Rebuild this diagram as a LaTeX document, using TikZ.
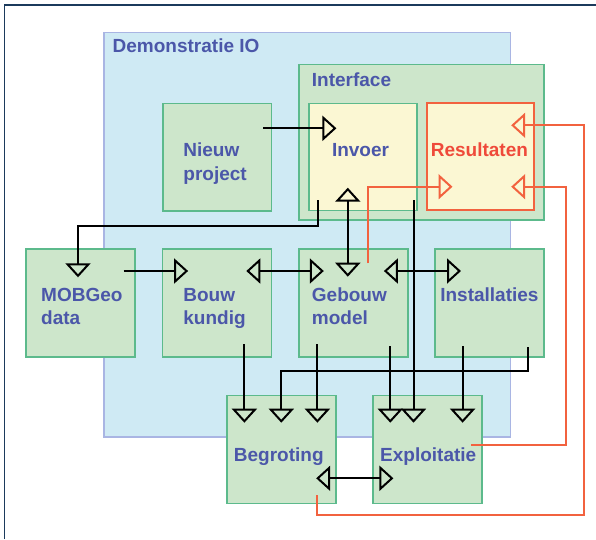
\documentclass[tikz,border=0pt]{standalone}
\usepackage{fontspec}
\setmainfont{Liberation Sans}
\usetikzlibrary{arrows.meta}
\definecolor{frameC}{HTML}{1B3A5C}
\definecolor{demoFill}{HTML}{CFEAF4}
\definecolor{demoLine}{HTML}{A9B5E3}
\definecolor{grFill}{HTML}{CDE6CB}
\definecolor{grLine}{HTML}{5CBA8C}
\definecolor{yeFill}{HTML}{FBF7D3}
\definecolor{redC}{HTML}{F2623F}
\definecolor{txtBlue}{HTML}{4B57A9}
\definecolor{txtRed}{HTML}{EF4A3A}
\tikzset{
  box/.style={draw, line width=1.6pt, anchor=north west, inner sep=0pt, outer sep=0pt},
  demobox/.style={box, draw=demoLine, fill=demoFill},
  greenbox/.style={box, draw=grLine, fill=grFill, minimum width=109pt, minimum height=108pt},
  yellowbox/.style={box, draw=grLine, fill=yeFill, minimum width=108pt, minimum height=107pt},
  redbox/.style={box, draw=redC, line width=2pt, fill=yeFill, minimum width=107pt, minimum height=107pt},
  lbl/.style={font=\fontsize{19}{23.3}\selectfont\bfseries, text=txtBlue, inner sep=0pt, align=left, anchor=base west},
  tip/.tip={Triangle[open, length=14pt, width=25pt]},
  conn/.style={line width=2pt, draw=black, line join=miter},
  redconn/.style={line width=2pt, draw=redC, line join=miter},
}
\begin{document}
\begin{tikzpicture}[x=1pt,y=-1pt]
\useasboundingbox (0,0) rectangle (596,539);
% frame
\draw[frameC, line width=1.6pt] (4.6,539) -- (4.6,4.7) -- (596,4.7);

% containers
\node[demobox, minimum width=406.7pt, minimum height=404.4pt] (demo) at (103.8,32.3) {};
\node[lbl] (tdemo) at (112.5,52.3) {Demonstratie IO};
\node[box, draw=grLine, fill=grFill, minimum width=245pt, minimum height=155.7pt] (iface) at (299,64.3) {};
\node[lbl] (tiface) at (311.7,86) {Interface};

% top row
\node[greenbox, minimum width=108.7pt, minimum height=107.4pt] (nieuw) at (162.7,103.3) {};
\node[yellowbox] (invoer) at (309,103.3) {};
\node[redbox] (result) at (426.7,103.3) {};
\node[lbl] (tnieuw) at (183.2,180) {Nieuw\\project};
\node[lbl] (tinvoer) at (331.8,156.7) {Invoer};
\node[lbl, text=txtRed] (tresult) at (430.6,156.7) {Resultaten};

% middle row
\node[greenbox] (mob) at (25.8,249) {};
\node[greenbox] (bouw) at (162.3,249) {};
\node[greenbox] (gebouw) at (299,249) {};
\node[greenbox] (inst) at (435.2,249) {};
\node[lbl] (tmob) at (41,324.3) {MOBGeo\\data};
\node[lbl] (tbouw) at (183.2,324.3) {Bouw\\kundig};
\node[lbl] (tgebouw) at (311.7,324.3) {Gebouw\\model};
\node[lbl] (tinst) at (440.1,301) {Installaties};

% bottom row
\node[greenbox] (begr) at (227,395.3) {};
\node[greenbox] (expl) at (372.9,395.3) {};
\node[lbl] (tbegr) at (233.7,461.7) {Begroting};
\node[lbl] (texpl) at (380,461.7) {Exploitatie};

% connector end points
\coordinate (nieuwOut) at (263.4,128.3);
\coordinate (invoerIn) at (336.4,128.3);
\coordinate (invoerOutA) at (318,200);
\coordinate (mobIn) at (78,277.3);
\coordinate (invoerBi) at (347.8,187.7);
\coordinate (gebouwTop) at (347.8,276.7);
\coordinate (mobOut) at (123.5,271);
\coordinate (bouwIn) at (188.1,271);
\coordinate (bouwBi) at (246.3,271);
\coordinate (gebouwBiL) at (323.8,271);
\coordinate (gebouwBiR) at (383.9,271);
\coordinate (instBi) at (461,271);
\coordinate (invoerOutB) at (413.5,200);
\coordinate (explInB) at (413.5,422.7);
\coordinate (bouwOut) at (244.4,344.3);
\coordinate (begrInA) at (244.4,422.7);
\coordinate (instOutA) at (527.6,347.3);
\coordinate (begrInB) at (281.3,422.7);
\coordinate (gebouwOutA) at (317.4,344.3);
\coordinate (begrInC) at (317.4,422.7);
\coordinate (gebouwOutB) at (390.3,346);
\coordinate (explInA) at (390.3,422.7);
\coordinate (instOutB) at (462.6,346);
\coordinate (explInC) at (462.6,422.7);
\coordinate (begrBi) at (316.2,478.3);
\coordinate (explBi) at (393.4,478.3);
\coordinate (explOutR) at (471.3,445);
\coordinate (resInLow) at (511.2,186.7);
\coordinate (begrOutR) at (317.4,495);
\coordinate (resInTop) at (511.2,125.3);
\coordinate (gebouwOutR) at (367.9,263.3);
\coordinate (resInLeft) at (452.5,186.7);

% black connectors
\draw[conn, -tip] (nieuwOut) -- (invoerIn);
\draw[conn, -tip] (invoerOutA) -- (invoerOutA |- 0,226) -- (mobIn |- 0,226) -- (mobIn);
\draw[conn, tip-tip] (invoerBi) -- (gebouwTop);
\draw[conn, -tip] (mobOut) -- (bouwIn);
\draw[conn, tip-tip] (bouwBi) -- (gebouwBiL);
\draw[conn, tip-tip] (gebouwBiR) -- (instBi);
\draw[conn, -tip] (invoerOutB) -- (explInB);
\draw[conn, -tip] (bouwOut) -- (begrInA);
\draw[conn, -tip] (instOutA) -- (instOutA |- 0,370.7) -- (begrInB |- 0,370.7) -- (begrInB);
\draw[conn, -tip] (gebouwOutA) -- (begrInC);
\draw[conn, -tip] (gebouwOutB) -- (explInA);
\draw[conn, -tip] (instOutB) -- (explInC);
\draw[conn, tip-tip] (begrBi) -- (explBi);

% red connectors
\draw[redconn, -tip] (explOutR) -- (566.3,445) -- (566.3,186.7) -- (resInLow);
\draw[redconn, -tip] (begrOutR) -- (317.4,515) -- (584.2,515) -- (584.2,125.3) -- (resInTop);
\draw[redconn, -tip] (gebouwOutR) -- (gebouwOutR |- resInLeft) -- (resInLeft);
\end{tikzpicture}
\end{document}
